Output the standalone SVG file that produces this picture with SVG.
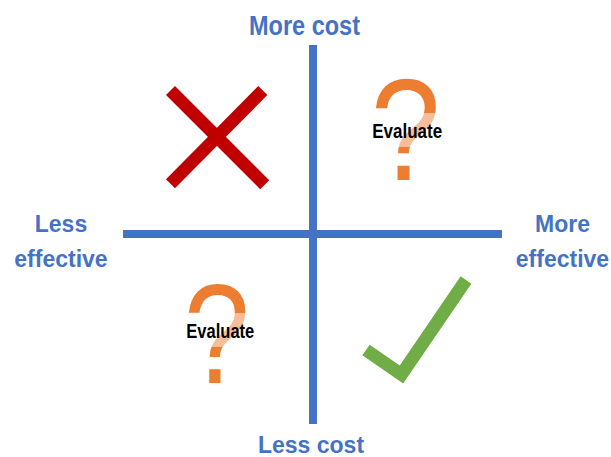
<svg xmlns="http://www.w3.org/2000/svg" width="611" height="457" viewBox="0 0 611 457">
  <style>
    .axis { stroke: #4472C4; stroke-width: 8; fill: none; }
    .lbl { font-family: "Liberation Sans", Arial, sans-serif; font-weight: bold; fill: #4472C4; text-anchor: middle; }
    .side { font-size: 23px; }
    .q { font-family: "Liberation Sans", Arial, sans-serif; font-size: 144px; fill: #ED7D31; text-anchor: middle; }
    .band { fill: #FFFFFF; fill-opacity: 0.5; }
    .ev { font-family: "Liberation Sans", Arial, sans-serif; font-weight: bold; font-size: 20.5px; fill: #000000; text-anchor: middle; }
  </style>
  <rect width="611" height="457" fill="#FFFFFF"/>

  <g id="axes">
    <line class="axis" x1="123" y1="234" x2="502" y2="234"/>
    <line class="axis" x1="313" y1="45" x2="313" y2="424"/>
  </g>

  <g id="label-more-cost">
    <text class="lbl" x="304.5" y="34.5" font-size="28" textLength="111" lengthAdjust="spacingAndGlyphs">More cost</text>
  </g>
  <g id="label-less-cost">
    <text class="lbl side" x="311" y="453.3">Less cost</text>
  </g>
  <g id="label-less-effective">
    <text class="lbl side" x="61" y="232">Less</text>
    <text class="lbl side" x="61" y="266.7">effective</text>
  </g>
  <g id="label-more-effective">
    <text class="lbl side" x="562.5" y="232">More</text>
    <text class="lbl side" x="562.5" y="266.7">effective</text>
  </g>

  <g id="cross">
    <line x1="170.5" y1="90.5" x2="264.7" y2="184.7" stroke="#C00000" stroke-width="12.7"/>
    <line x1="262.8" y1="90.5" x2="170.5" y2="183.8" stroke="#C00000" stroke-width="12.7"/>
  </g>

  <g id="check">
    <polyline points="366,350 401.5,374.5 466,280" fill="none" stroke="#70AD47" stroke-width="13" stroke-linejoin="miter"/>
  </g>

  <g id="evaluate-top">
    <text class="q" transform="translate(405.5,180) scale(0.87,1)" x="0" y="0">?</text>
    <rect class="band" x="367" y="113" width="80" height="34"/>
    <text class="ev" x="407.2" y="138.3" textLength="70" lengthAdjust="spacingAndGlyphs">Evaluate</text>
  </g>

  <g id="evaluate-bottom">
    <text class="q" transform="translate(216.8,382.5) scale(0.82,0.986)" x="0" y="0">?</text>
    <rect class="band" x="181" y="313" width="79" height="34"/>
    <text class="ev" x="220.3" y="338.3" textLength="68" lengthAdjust="spacingAndGlyphs">Evaluate</text>
  </g>
</svg>
